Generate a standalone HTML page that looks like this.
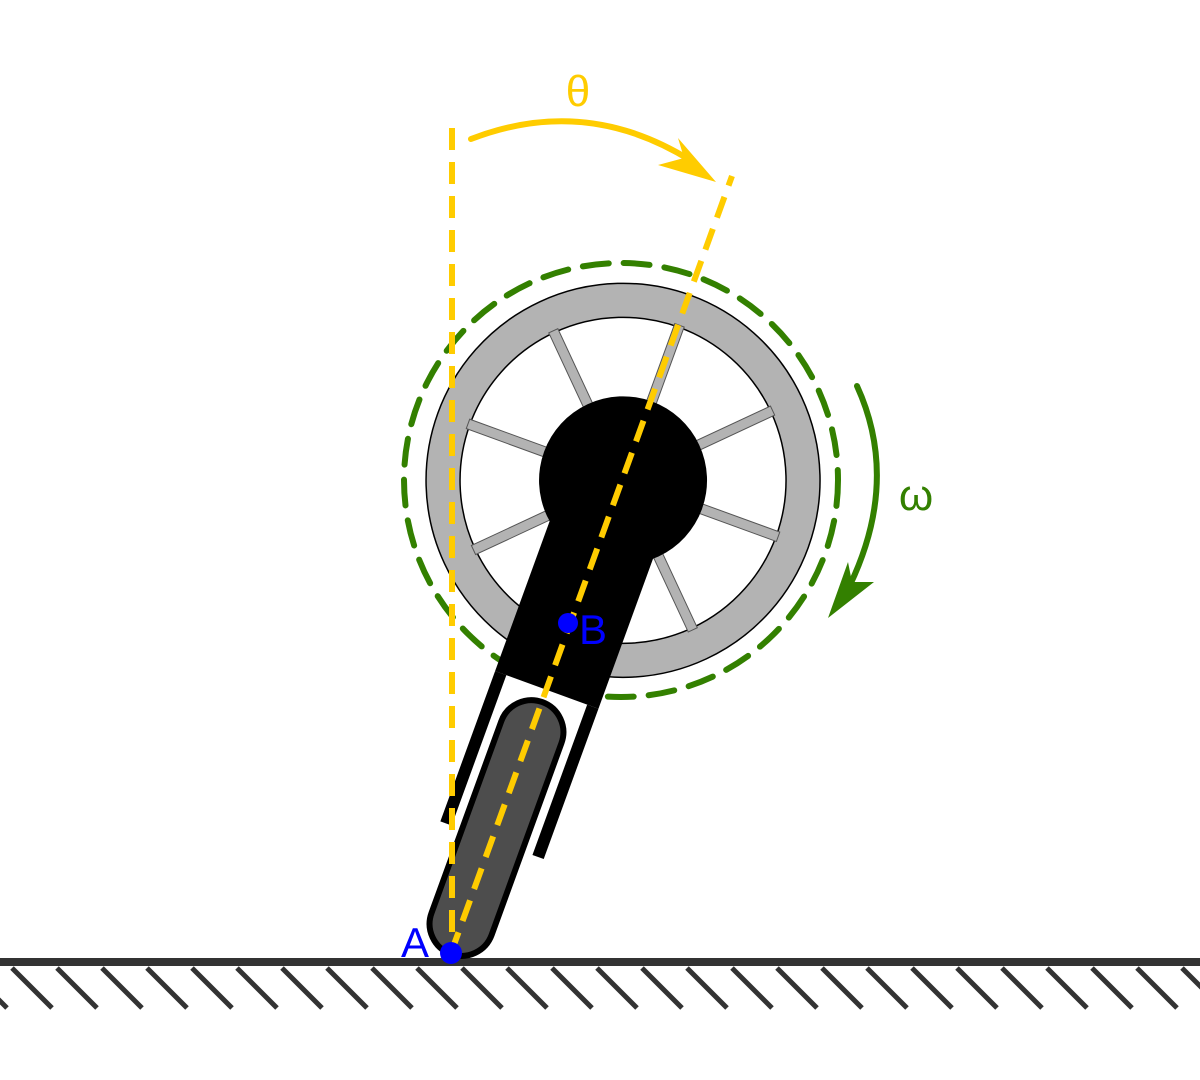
<!DOCTYPE html>
<html><head><meta charset="utf-8"><style>html,body{margin:0;padding:0;background:#fff}svg{display:block}</style></head>
<body>
<svg width="1200" height="1080" viewBox="0 0 1200 1080" xmlns="http://www.w3.org/2000/svg" font-family="Liberation Sans, DejaVu Sans, sans-serif">
  <g>
    <g id="hatches" stroke="#333" stroke-width="5"></g>
    <line x1="0" y1="962" x2="1200" y2="962" stroke="#333" stroke-width="8"/>
  </g>
  <g>
    <circle cx="621" cy="480" r="217" fill="none" stroke="#338000" stroke-width="6" stroke-dasharray="26 15" stroke-linecap="round"/>
  </g>
  <g transform="rotate(20 451 953)">
    <g>
      <circle cx="451" cy="450" r="197" fill="#b3b3b3" stroke="#000" stroke-width="1.5"/>
      <circle cx="451" cy="450" r="163" fill="#fff" stroke="#000" stroke-width="1.5"/>
      <g id="spokes"></g>
    </g>
    <g>
      <rect x="396" y="450" width="110" height="223" fill="#000"/>
      <circle cx="451" cy="450" r="84" fill="#000"/>
      <rect x="396" y="673" width="12" height="160" fill="#000"/>
      <rect x="494" y="673" width="12" height="160" fill="#000"/>
    </g>
    <rect x="419" y="686" width="64" height="268" rx="32" fill="#4d4d4d" stroke="#000" stroke-width="6"/>
  </g>
  <g stroke="#ffcc00" stroke-width="6" stroke-dasharray="22 12" fill="none">
    <line x1="452" y1="128" x2="452" y2="953"/>
    <line x1="451" y1="953" x2="732" y2="176"/>
  </g>
  <g>
    <path d="M471 139 Q585 95 690 160" fill="none" stroke="#ffcc00" stroke-width="6" stroke-linecap="round"/>
    <polygon points="716,182 678,138 684,158 658,165" fill="#ffcc00"/>
  </g>
  <text x="578" y="106" font-size="44" fill="#ffcc00" text-anchor="middle">θ</text>
  <g>
    <path d="M857 386 Q900 480 850 585" fill="none" stroke="#338000" stroke-width="6" stroke-linecap="round"/>
    <polygon points="828,618 848,562 852,582 874,582" fill="#338000"/>
  </g>
  <text x="916" y="510" font-size="44" fill="#338000" text-anchor="middle">ω</text>
  <circle cx="568" cy="623" r="10" fill="#0000ff"/>
  <text x="579" y="644" font-size="42" fill="#0000ff">B</text>
  <circle cx="451" cy="953" r="11" fill="#0000ff"/>
  <text x="401" y="957" font-size="42" fill="#0000ff">A</text>
</svg>
<script>
const hatchStarts = [];
for (let x = -33; x < 1220; x += 45) hatchStarts.push(x);
const hg = document.getElementById('hatches');
hatchStarts.forEach(x => {
  const l = document.createElementNS('http://www.w3.org/2000/svg', 'line');
  
  
  l.setAttribute('x1', x); l.setAttribute('y1', 968);
  l.setAttribute('x2', x + 40); l.setAttribute('y2', 1008);
  hg.appendChild(l);
});
const spokeAngles = [0, 45, 90, 135, 180, 225, 270, 315];
const sg = document.getElementById('spokes');
spokeAngles.forEach(a => {
  const r = document.createElementNS('http://www.w3.org/2000/svg', 'rect');
  
  
  r.setAttribute('x', 446); r.setAttribute('y', 285);
  r.setAttribute('width', 10); r.setAttribute('height', 170);
  r.setAttribute('fill', '#b3b3b3'); r.setAttribute('stroke', '#555'); r.setAttribute('stroke-width', '1');
  r.setAttribute('transform', 'rotate(' + a + ' 451 450)');
  sg.appendChild(r);
});
</script>
</body></html>
